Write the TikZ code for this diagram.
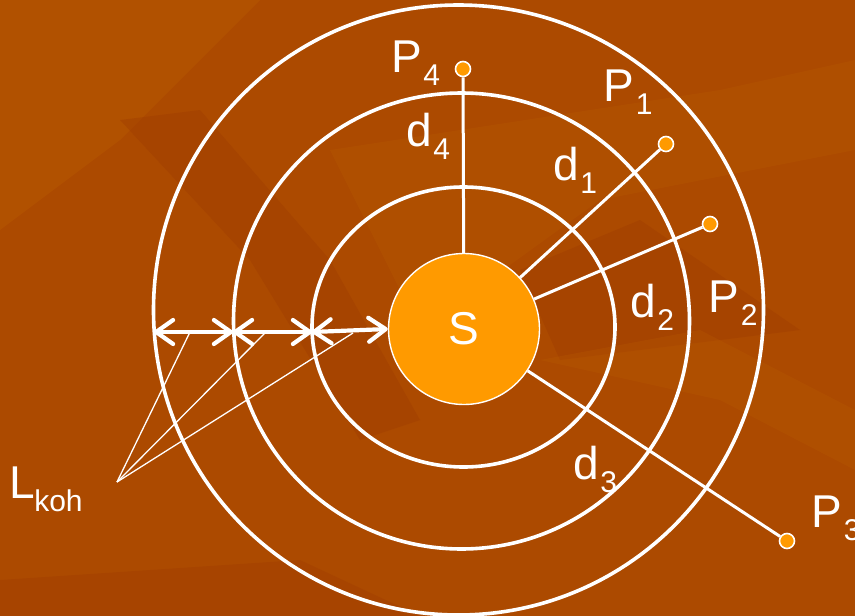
\documentclass[tikz,border=0pt]{standalone}
\usepackage{fontspec}
\setmainfont{Liberation Sans}
\usetikzlibrary{arrows.meta}
\definecolor{bgbase}{HTML}{AC4A00}
\definecolor{bgdark}{HTML}{9C3900}
\definecolor{bglight}{HTML}{B95B00}
\definecolor{sorange}{HTML}{FF9A00}
\newcommand{\lbl}[2]{#1\kern1.5pt\raisebox{-13pt}{\fontsize{30}{30}\selectfont #2}}

\begin{document}
\begin{tikzpicture}[x=1pt, y=-1pt,
  txt/.style={text=white, font=\fontsize{46}{46}\selectfont, inner sep=0pt, anchor=base west},
  ring/.style={draw=white, line width=3.6pt},
  dot/.style={circle, fill=sorange, draw=white, line width=1.6pt, minimum size=15pt, inner sep=0pt},
  ray/.style={draw=white, line width=3pt},
  gap/.style={draw=white, line width=4.2pt, {Straight Barb[round,length=17pt,width=24pt]}-{Straight Barb[round,length=17pt,width=24pt]}},
  thin/.style={draw=white, line width=1.3pt}
]
% background and its texture
\fill[bgbase] (0,0) rectangle (855,616);
\useasboundingbox (0,0) rectangle (855,616);
\fill[bglight, opacity=0.45] (0,0) -- (260,0) -- (120,140) -- (0,230) -- cycle;
\fill[bgdark, opacity=0.35] (120,120) -- (200,110) -- (330,260) -- (420,420) -- (360,440) -- (250,260) -- cycle;
\fill[bglight, opacity=0.3] (330,150) -- (720,90) -- (855,60) -- (855,150) -- (600,200) -- (420,330) -- cycle;
\fill[bgdark, opacity=0.35] (520,270) -- (640,220) -- (800,330) -- (560,360) -- cycle;
\fill[bglight, opacity=0.3] (540,360) -- (700,330) -- (855,410) -- (855,470) -- (720,400) -- cycle;
\fill[bgdark, opacity=0.3] (0,580) -- (300,560) -- (420,616) -- (0,616) -- cycle;

% rings round the source
\draw[ring] (463.5,327) ellipse [x radius=151.5, y radius=140];
\draw[ring] (461.5,321) circle [radius=228];
\draw[ring] (458.5,310) circle [radius=305];

% source and points
\node[circle, fill=sorange, draw=white, line width=1.4pt, minimum size=151pt, inner sep=0pt,
      text=white, font=\fontsize{46}{46}\selectfont] (S) at (464,329) {S};
\node[dot] (p4) at (463,69) {};
\node[dot] (p1) at (666,144) {};
\node[dot] (p2) at (710,224) {};
\node[dot] (p3) at (787,541) {};

\draw[ray] (S) -- (p4);
\draw[ray] (S) -- (p1);
\draw[ray] (S) -- (p2);
\draw[ray] (S) -- (p3);

% labels
\node[txt] (lp4) at (391,72)    {\lbl{P}{4}};
\node[txt] (lp1) at (603.5,101) {\lbl{P}{1}};
\node[txt] (lp2) at (708.5,312) {\lbl{P}{2}};
\node[txt] (lp3) at (811.5,527) {\lbl{P}{3}};
\node[txt] (ld4) at (406,146)   {\lbl{d}{4}};
\node[txt] (ld1) at (553,180)   {\lbl{d}{1}};
\node[txt] (ld2) at (630,317)   {\lbl{d}{2}};
\node[txt] (ld3) at (573,479)   {\lbl{d}{3}};

% widths between rings
\coordinate (a0) at (154,332);
\coordinate (a1) at (233,332);
\coordinate (a2) at (312,332);
\coordinate (a3) at (S.west);
\draw[gap] (a0) -- (a1);
\draw[gap] (a1) -- (a2);
\draw[gap] (a2) -- (a3);

\node[txt] (lk) at (9.5,498) {L\kern-1pt\raisebox{-13pt}{\fontsize{30}{30}\selectfont koh}};
\coordinate (lkp) at (117,482);
\coordinate (m1) at (190,332);
\coordinate (m2) at (265,333);
\coordinate (m3) at (353,333);
\draw[thin] (lkp) -- (m1);
\draw[thin] (lkp) -- (m2);
\draw[thin] (lkp) -- (m3);
\end{tikzpicture}
\end{document}
